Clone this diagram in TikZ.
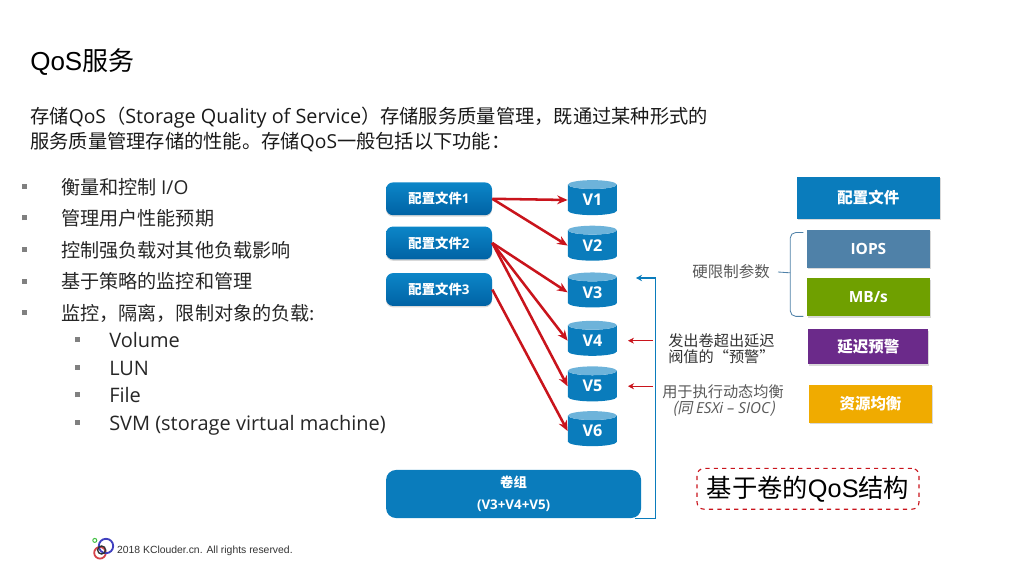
\documentclass[tikz,border=0pt]{standalone}
\usepackage{fontspec}
\setmainfont{Noto Sans CJK SC}
\newfontfamily\enfont{Open Sans}
\newfontfamily\footfont{Liberation Sans}
\newfontfamily\slantfont[FakeSlant=0.2]{Noto Sans CJK SC}
\usetikzlibrary{shapes.geometric, arrows.meta, positioning, calc, shadows}

\definecolor{kcblue}{HTML}{0A7CBC}
\definecolor{kctop}{HTML}{0C86C8}
\definecolor{kcbottom}{HTML}{0062A4}
\definecolor{kclid}{HTML}{6DB3DA}
\definecolor{kcred}{HTML}{C9141C}
\definecolor{kcsteel}{HTML}{4F81A8}
\definecolor{kcgreen}{HTML}{6FA000}
\definecolor{kcpurple}{HTML}{6B2A8A}
\definecolor{kcamber}{HTML}{F0AB00}
\definecolor{kcgrey}{HTML}{595959}

\newcommand{\lstbullet}{\textcolor{gray}{\rule[0.28em]{0.125cm}{0.125cm}}}
\newcommand{\en}[1]{{\enfont #1}}
\newcommand{\ar}[1]{{\footfont #1}}

\begin{document}
\begin{tikzpicture}[
    % Profile boxes (left column)
    cfgbox/.style={rectangle, rounded corners=5pt, top color=kctop, bottom color=kcbottom,
                   minimum width=2.65cm, minimum height=0.82cm, inner sep=0pt,
                   text=white, font=\fontsize{9.5}{11}\selectfont\bfseries,
                   drop shadow={shadow xshift=0pt, shadow yshift=-1pt, opacity=0.3}},
    % Volumes
    volbox/.style={cylinder, shape border rotate=90, aspect=0.45, draw=none,
                   cylinder uses custom fill, cylinder body fill=kcblue, cylinder end fill=kclid,
                   minimum width=1.225cm, minimum height=0.875cm, inner sep=0pt,
                   text=white, font=\enfont\fontsize{11.5}{13}\selectfont\bfseries},
    % Legend boxes (right column)
    parbox/.style={rectangle, minimum width=3.075cm, minimum height=0.95cm, inner sep=0pt,
                   text=white, font=\fontsize{11}{13}\selectfont\bfseries,
                   drop shadow={shadow xshift=0.5pt, shadow yshift=-1pt, opacity=0.3}},
    % Plain texts
    itemtext/.style={anchor=west, inner sep=0pt, text height=1.7ex, text depth=0.5ex,
                     font=\fontsize{13.6}{16}\selectfont, text=black!85},
    subtext/.style={itemtext, font=\fontsize{14.2}{16}\selectfont},
    notetext/.style={align=left, inner sep=0pt, font=\fontsize{10.8}{11.6}\selectfont},
    arrow/.style={-{Stealth[length=2.6mm, width=2.2mm]}, line width=1.8pt, kcred},
    notearrow/.style={-{Stealth[length=1.5mm, width=1.5mm]}, line width=0.5pt, kcred},
    grouparrow/.style={-{Stealth[length=1.5mm, width=1.6mm]}, line width=0.8pt, kcblue},
    node distance=0.25cm
]
\useasboundingbox (0,0) rectangle (25.6,14.4);

%-------- HEADING --------
\node[anchor=west, inner sep=0pt, font=\fontsize{18.5}{22}\selectfont] (title) at (0.75,12.84) {\ar{QoS}服务};
\node[anchor=north west, align=left, inner sep=0pt, font=\fontsize{13.7}{17.2}\selectfont, text=black!90]
    (intro) at (0.75,11.72)
    {存储\en{QoS}（\en{\fontsize{14.1}{17.2}\selectfont Storage Quality of Service}）存储服务质量管理，既通过某种形式的\\
     服务质量管理存储的性能。存储\en{QoS}一般包括以下功能：};

%-------- FEATURE LIST --------
\node[itemtext] (it1) at (0.55,9.66) {\lstbullet\hspace{0.85cm}衡量和控制 \en{I/O}};
\node[itemtext] (it2) at ($(it1.west)+(0,-0.79)$) {\lstbullet\hspace{0.85cm}管理用户性能预期};
\node[itemtext] (it3) at ($(it2.west)+(0,-0.79)$) {\lstbullet\hspace{0.85cm}控制强负载对其他负载影响};
\node[itemtext] (it4) at ($(it3.west)+(0,-0.79)$) {\lstbullet\hspace{0.85cm}基于策略的监控和管理};
\node[itemtext] (it5) at ($(it4.west)+(0,-0.79)$) {\lstbullet\hspace{0.85cm}监控，隔离，限制对象的负载:};
\node[subtext] (sub1) at ($(it5.west)+(1.33,-0.68)$) {\lstbullet\hspace{0.72cm}\en{Volume}};
\node[subtext] (sub2) at ($(sub1.west)+(0,-0.69)$) {\lstbullet\hspace{0.72cm}\en{LUN}};
\node[subtext] (sub3) at ($(sub2.west)+(0,-0.69)$) {\lstbullet\hspace{0.72cm}\en{File}};
\node[subtext] (sub4) at ($(sub3.west)+(0,-0.69)$) {\lstbullet\hspace{0.72cm}\en{SVM (storage virtual machine)}};

%-------- PROFILES --------
\node[cfgbox] (cfg1) at (10.975,9.43) {配置文件\en{1}};
\node[cfgbox, below=0.27cm of cfg1] (cfg2) {配置文件\en{2}};
\node[cfgbox, below=0.33cm of cfg2] (cfg3) {配置文件\en{3}};

%-------- VOLUMES --------
\node[volbox] (v1) at (14.81,9.4) {V1};
\node[volbox, below=0.25cm of v1] (v2) {V2};
\node[volbox, below=0.28cm of v2] (v3) {V3};
\node[volbox, below=0.32cm of v3] (v4) {V4};
\node[volbox, below=0.25cm of v4] (v5) {V5};
\node[volbox, below=0.23cm of v5] (v6) {V6};

%-------- VOLUME GROUP --------
\node[rectangle, rounded corners=7pt, fill=kcblue, minimum width=6.375cm, minimum height=1.2cm,
      inner sep=0pt, align=center, text=white, font=\fontsize{9.5}{16}\selectfont\bfseries]
    (grp) at (12.84,2.05) {卷组\\\en{(V3+V4+V5)}};
\coordinate (grptip) at (15.9,7.45);

%-------- RIGHT COLUMN --------
\node[parbox, fill=kcblue, minimum width=3.575cm, minimum height=1.05cm] (prof) at (21.71,9.45) {配置文件};
\node[parbox, fill=kcsteel, below=0.25cm of prof] (iops) {\en{IOPS}};
\node[parbox, fill=kcgreen, below=0.25cm of iops] (mbps) {\en{MB/s}};
\node[parbox, fill=kcpurple, minimum width=3cm, minimum height=0.875cm, below=0.32cm of mbps] (alarm) {延迟预警};
\node[parbox, fill=kcamber, below=0.5cm of alarm, xshift=1.5pt] (bal) {资源均衡};

%-------- NOTES --------
\node[notetext, text=kcgrey, anchor=east, font=\fontsize{11}{12}\selectfont] (hard) at (19.25,7.6) {硬限制参数};
\node[notetext, text=black!80, anchor=west] (warn) at (16.7,5.68) {发出卷超出延迟\\阀值的“预警”};
\node[notetext, text=kcgrey, anchor=west] (dyn) at (16.55,4.39)
    {用于执行动态均衡\\\hspace*{0.25cm}{\slantfont (同 {\enfont\itshape ESXi – SIOC})}};
\node[rectangle, draw=kcred, dashed, line width=0.8pt, rounded corners=5pt, minimum width=5.55cm,
      minimum height=1.02cm, inner sep=0pt, font=\fontsize{18}{21}\selectfont]
    (tag) at (20.2,2.18) {基于卷的\ar{QoS}结构};

%-------- FOOTER --------
\node[circle, draw=kcred!80, line width=1.3pt, minimum size=0.29cm, inner sep=0pt] (logored) at (2.5,0.58) {};
\node[circle, draw=blue!50!gray, line width=1.3pt, minimum size=0.36cm, inner sep=0pt] (logoblue) at (2.65,0.75) {};
\node[circle, draw=black!80, line width=1pt, minimum size=0.2cm, inner sep=0pt] (logoblack) at (2.54,0.65) {};
\node[circle, draw=green!50!gray, line width=0.7pt, minimum size=0.1cm, inner sep=0pt] (logogreen) at (2.37,0.89) {};
\node[anchor=west, inner sep=0pt, font=\footfont\fontsize{7.4}{9}\selectfont, text=black!80]
    (foot) at (2.92,0.62) {2018 KClouder.cn. All rights reserved.};

%-------- ARROWS: profiles to volumes --------
\draw[arrow] (cfg1.east) -- (v1.west);
\draw[arrow] (cfg1.east) -- (v2.west);
\draw[arrow] (cfg2.east) -- (v3.west);
\draw[arrow] (cfg2.east) -- (v4.west);
\draw[arrow] (cfg2.east) -- (v5.west);
\draw[arrow] (cfg3.east) -- (v6.west);

%-------- ARROWS: notes and group --------
\draw[notearrow, shorten >=0.27cm, shorten <=0.37cm] (warn.west |- v4.east) -- (v4.east);
\draw[notearrow, shorten >=0.27cm, shorten <=0.22cm] (dyn.west |- v5.east) -- (v5.east);
\draw[grouparrow] ($(grp.south east)+(-0.15,0)$) -- ++(0.5,0) |- (grptip);

%-------- BRACE --------
\draw[kcsteel, line width=0.6pt, rounded corners=4pt]
    ($(iops.north west)+(-0.08,-0.08)$) -- ++(-0.33,0) |- ($(mbps.south west)+(-0.08,0)$);
\draw[kcsteel, line width=0.6pt] (hard.east)+(0.2,0) -- ($(iops.north west)!0.5!(mbps.south west)+(-0.41,0)$);

\end{tikzpicture}
\end{document}
